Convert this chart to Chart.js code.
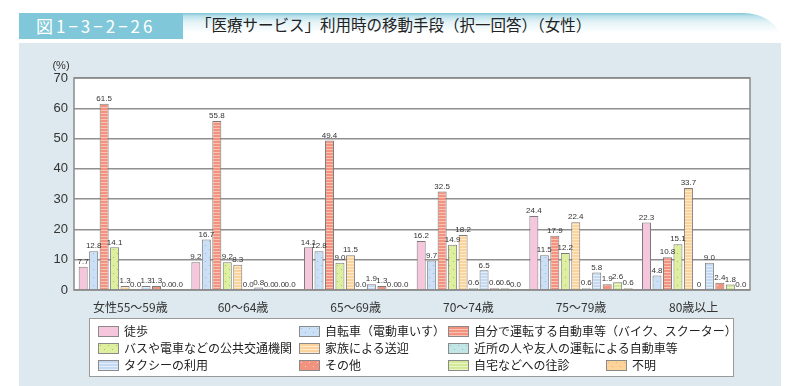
<!DOCTYPE html>
<html>
<head>
<meta charset="utf-8">
<script src="https://cdn.jsdelivr.net/npm/chart.js@4/dist/chart.umd.min.js"></script>
<style>
  body { margin: 0; width: 800px; height: 386px; position: relative; overflow: hidden; background: #fff;
         font-family: "Noto Sans CJK JP", sans-serif; }
  #band { position: absolute; left: 183px; top: 13px; width: 598px; height: 27px;
          background: linear-gradient(to bottom, #7fc6d6 0, #b9e0ea 3px, #e4f3f7 9px, #fff 20px);
          border-top-right-radius: 40px 28px; }
  #num { position: absolute; left: 19px; top: 13px; width: 164px; height: 26px; background: #7fc7d9;
         color: #fff; font: 17px "Noto Sans CJK JP", sans-serif; line-height: 26px; text-indent: 17px; letter-spacing: 3px; }
  #ttl { position: absolute; left: 196px; top: 13px; height: 26px; line-height: 26px; color: #222;
         font: 15.5px "Noto Sans CJK JP", sans-serif; }
  #panel { position: absolute; left: 19px; top: 43px; width: 762px; height: 343px; background: #dde9ee; }
  #chart { position: absolute; left: 0; top: 0; }
  #legend { position: absolute; left: 89px; top: 318px; width: 645px; height: 59px; background: #fff;
            border: 1px solid #9a9a9a; box-sizing: border-box; }
  .item { position: absolute; font-size: 12px; color: #222; line-height: 14px; white-space: nowrap; }
  .sw { display: inline-block; width: 19px; height: 9px; border: 1px solid #8a8a8a; vertical-align: -1px; margin-right: 5px; }
</style>
</head>
<body>
<div id="band"></div>
<div id="num">図1−3−2−26</div>
<div id="ttl">「医療サービス」利用時の移動手段（択一回答）（女性）</div>
<div id="panel"></div>
<canvas id="chart" width="800" height="386"></canvas>
<div id="legend"></div>
<script>
// 年齢階級
const categories = ['女性55～59歳', '60～64歳', '65～69歳', '70～74歳', '75～79歳', '80歳以上'];
const yTicks = [0, 10, 20, 30, 40, 50, 60, 70];

// 移動手段ごとの割合(%)
const walk          = [7.7, 9.2, 14.1, 16.2, 24.4, 22.3];
const bicycle       = [12.8, 16.7, 12.8, 9.7, 11.5, 4.8];
const ownCar        = [61.5, 55.8, 49.4, 32.5, 17.9, 10.8];
const publicTransit = [14.1, 9.2, 9.0, 14.9, 12.2, 15.1];
const family        = [1.3, 8.3, 11.5, 18.2, 22.4, 33.7];
const neighbor      = [0.0, 0.0, 0.0, 0.6, 0.6, 0];
const taxi          = [1.3, 0.8, 1.9, 6.5, 5.8, 9.0];
const other         = [1.3, 0.0, 1.3, 0.6, 1.9, 2.4];
const homeVisit     = [0.0, 0.0, 0.0, 0.6, 2.6, 1.8];
const unknown       = [0.0, 0.0, 0.0, 0.0, 0.6, 0.0];

const seriesNames = [
    '徒歩', '自転車（電動車いす）', '自分で運転する自動車等（バイク、スクーター）',
    'バスや電車などの公共交通機関', '家族による送迎', '近所の人や友人の運転による自動車等',
    'タクシーの利用', 'その他', '自宅などへの往診', '不明'
];
const seriesData = [walk, bicycle, ownCar, publicTransit, family, neighbor, taxi, other, homeVisit, unknown];
// 80歳以上の「近所の人や友人」は原図で "0" と表記
const plainZero = { '5-5': true };

// 塗りの模様: [地色, 模様色, 種類]
const fills = [
    ['#f5c6dc', null, 'plain'],
    ['#cbe0f6', '#8fbbe6', 'dot'],
    ['#f3927f', '#f8c2b5', 'stripe'],
    ['#def0a0', '#9fc84a', 'dot'],
    ['#fdd39c', '#feeacc', 'stripe'],
    ['#c2e5e6', '#86c6c9', 'dot'],
    ['#c4daf3', '#e4eefa', 'stripe'],
    ['#f2937f', '#fbd3c9', 'dot'],
    ['#d3e996', '#eaf5c8', 'stripe'],
    ['#fdd39c', '#f2b062', 'dot']
];

function makeTile(base, mark, kind) {
    const c = document.createElement('canvas');
    c.width = 8; c.height = kind === 'stripe' ? 3 : 8;
    const g = c.getContext('2d');
    g.fillStyle = base;
    g.fillRect(0, 0, c.width, c.height);
    if (kind === 'stripe') {
        g.fillStyle = mark;
        g.fillRect(0, 2, 8, 1);
    } else if (kind === 'dot') {
        g.fillStyle = mark;
        g.fillRect(1, 1, 1, 1);
        g.fillRect(5, 5, 1, 1);
    }
    return c;
}

const ctx = document.getElementById('chart').getContext('2d');
const tiles = fills.map(f => makeTile(f[0], f[1], f[2]));
const patterns = tiles.map(t => ctx.createPattern(t, 'repeat'));

const datasets = seriesData.map((d, i) => ({
    label: seriesNames[i],
    data: d,
    backgroundColor: patterns[i],
    borderColor: '#7a7a7a',
    borderWidth: 1,
    borderSkipped: 'start',
    categoryPercentage: 0.93,
    barPercentage: 0.86
}));

const plotDecor = {
    id: 'plotDecor',
    beforeDraw(chart) {
        const a = chart.chartArea, c = chart.ctx;
        c.save();
        c.fillStyle = '#fff';
        c.fillRect(a.left, a.top, a.right - a.left, a.bottom - a.top);
        c.restore();
    },
    afterDraw(chart) {
        const a = chart.chartArea, c = chart.ctx;
        c.save();
        c.strokeStyle = '#8a8a8a';
        c.lineWidth = 1.5;
        c.strokeRect(a.left, a.top, a.right - a.left, a.bottom - a.top);
        c.fillStyle = '#333';
        c.font = '11px "Liberation Sans", sans-serif';
        c.textAlign = 'center';
        c.fillText('(%)', 61, 69);
        c.restore();
    }
};

const valueLabels = {
    id: 'valueLabels',
    afterDatasetsDraw(chart) {
        const c = chart.ctx;
        c.save();
        c.font = '8px "Liberation Sans Narrow", "Liberation Sans", sans-serif';
        c.fillStyle = '#333';
        c.textAlign = 'center';
        c.textBaseline = 'bottom';
        chart.data.datasets.forEach((ds, i) => {
            chart.getDatasetMeta(i).data.forEach((bar, j) => {
                const v = ds.data[j];
                const txt = plainZero[i + '-' + j] ? '0' : v.toFixed(1);
                c.fillText(txt, bar.x, bar.y - 1);
            });
        });
        c.restore();
    }
};

new Chart(ctx, {
    type: 'bar',
    data: { labels: categories, datasets: datasets },
    options: {
        responsive: false,
        animation: false,
        layout: { padding: { left: 0, right: 50, top: 78, bottom: 0 } },
        plugins: { legend: { display: false }, tooltip: { enabled: false } },
        scales: {
            x: {
                grid: { display: false },
                border: { display: false },
                ticks: { color: '#333', padding: 2, font: { family: '"Noto Sans CJK JP", sans-serif', size: 12 } },
                afterFit(scale) { scale.height = 96; }
            },
            y: {
                min: 0, max: 70,
                afterBuildTicks(scale) { scale.ticks = yTicks.map(v => ({ value: v })); },
                grid: { color: '#8f8f8f', lineWidth: 1.5, drawTicks: false },
                border: { display: false },
                ticks: { color: '#333', padding: 6, font: { family: '"Liberation Sans", sans-serif', size: 13 } },
                afterFit(scale) { scale.width = 74; }
            }
        }
    },
    plugins: [plotDecor, valueLabels]
});

// 凡例 (3列、最後の行に4項目)
const legendPos = [
    [8, 5], [209, 5], [358, 5],
    [8, 22], [209, 22], [358, 22],
    [8, 39], [209, 39], [358, 39], [516, 39]
];
const legend = document.getElementById('legend');
seriesNames.forEach((name, i) => {
    const el = document.createElement('div');
    el.className = 'item';
    el.style.left = legendPos[i][0] + 'px';
    el.style.top = legendPos[i][1] + 'px';
    const sw = document.createElement('span');
    sw.className = 'sw';
    sw.style.backgroundImage = 'url(' + tiles[i].toDataURL() + ')';
    el.appendChild(sw);
    el.appendChild(document.createTextNode(name));
    legend.appendChild(el);
});
</script>
</body>
</html>
